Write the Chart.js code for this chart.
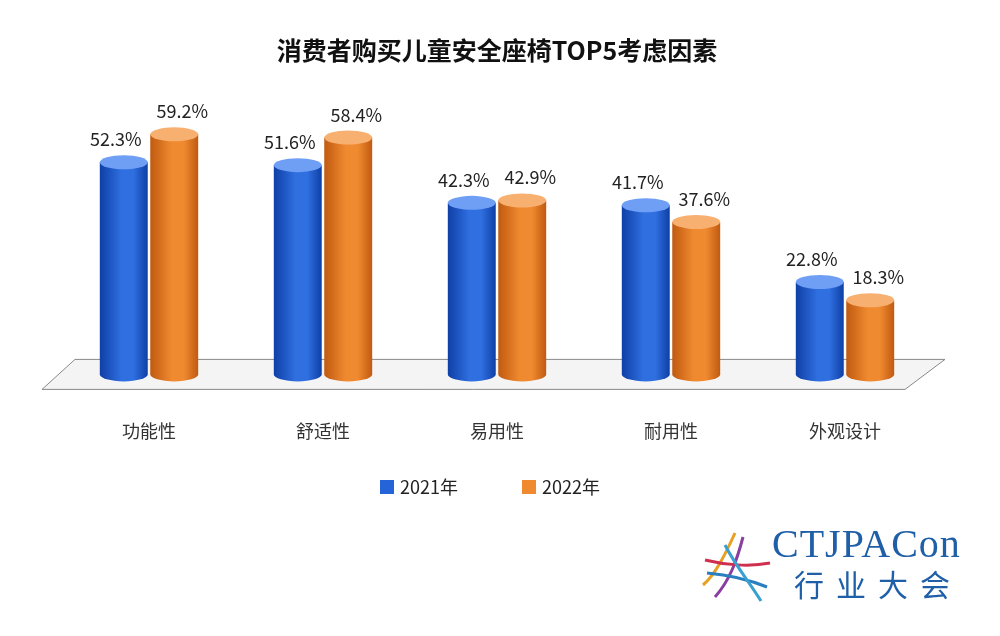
<!DOCTYPE html>
<html><head><meta charset="utf-8">
<script src="https://cdn.jsdelivr.net/npm/chart.js@4"></script>
<style>
body{margin:0;background:#fff;font-family:"Noto Sans CJK SC",sans-serif}
#wrap{position:relative;width:1000px;height:636px}
#logo{position:absolute;left:772px;top:522px;color:#1f5fa8}
#logo .a{font-family:"Liberation Serif",serif;font-size:40px;line-height:44px;letter-spacing:1px}
#logo .b{font-family:"Noto Sans CJK SC";font-size:30px;letter-spacing:12px;line-height:34px;margin-left:22px}
</style></head><body>
<div id="wrap"><canvas id="c" width="1000" height="636"></canvas>
<svg style="position:absolute;left:695px;top:525px" width="80" height="80">
<g fill="none" stroke-width="3">
<path d="M40 8 C30 30 20 50 8 60" stroke="#e8a020"/>
<path d="M48 12 C42 35 35 55 20 72" stroke="#8a3fa0"/>
<path d="M10 35 C30 40 55 42 75 38" stroke="#d03050"/>
<path d="M12 48 C35 50 55 55 72 62" stroke="#2a7fc0"/>
<path d="M30 20 C40 40 55 58 66 76" stroke="#3aa0d0"/>
</g></svg>
<div id="logo"><div class="a">CTJPACon</div><div class="b">行业大会</div></div>
</div>
<script>
const categories=["功能性","舒适性","易用性","耐用性","外观设计"];
const series2021=[52.3,51.6,42.3,41.7,22.8];
const series2022=[59.2,58.4,42.9,37.6,18.3];
const seriesNames=["2021年","2022年"];
const colors=[["#0f3fa6","#2f6fe0","#6f9ff5"],["#c05a10","#f08a30","#f8b070"]];
const legendColors=["#2563d8","#f08a30"];
const cyl={id:'cyl',
 beforeDatasetsDraw(ch){const c=ch.ctx,b=ch.scales.y.getPixelForValue(0);
  c.save();c.beginPath();c.moveTo(42,b+15);c.lineTo(905,b+15);c.lineTo(945,b-15);c.lineTo(75,b-15);c.closePath();
  c.fillStyle="#f4f4f4";c.fill();c.strokeStyle="#888";c.lineWidth=1;c.stroke();c.restore();},
 beforeDatasetDraw(){return false;},
 afterDatasetsDraw(ch){const c=ch.ctx;
  ch.data.datasets.forEach((ds,di)=>{ch.getDatasetMeta(di).data.forEach((el,i)=>{
   const w=el.width,x=el.x-w/2,t=el.y,bt=el.base,ry=7,col=colors[di];
   const g=c.createLinearGradient(x,0,x+w,0);g.addColorStop(0,col[0]);g.addColorStop(0.45,col[1]);g.addColorStop(0.7,col[1]);g.addColorStop(1,col[0]);
   c.save();c.fillStyle=g;c.beginPath();c.moveTo(x,t);c.lineTo(x,bt);c.ellipse(el.x,bt,w/2,ry,0,Math.PI,0,true);c.lineTo(x+w,t);c.closePath();c.fill();
   c.beginPath();c.ellipse(el.x,t,w/2,ry,0,0,Math.PI*2);c.fillStyle=col[2];c.fill();
   c.fillStyle="#222";c.font="18px 'Noto Sans CJK SC'";c.textAlign="center";c.fillText(ds.data[i].toFixed(1)+"%",el.x+(di?8:-8),t-16);
   c.restore();});});
  c.save();c.font="18px 'Noto Sans CJK SC'";c.textBaseline="middle";c.textAlign="left";
  const pos=[[380,"2021年"],[522,"2022年"]];
  ch.data.datasets.forEach((ds,di)=>{const lx=pos[di][0],ly=487;c.fillStyle=legendColors[di];c.fillRect(lx,ly-7,14,14);c.fillStyle="#222";c.fillText(ds.label,lx+20,ly);});
  c.restore();}};
new Chart(document.getElementById('c'),{type:'bar',
 data:{labels:categories,datasets:[
  {label:seriesNames[0],data:series2021,backgroundColor:"#2563d8",categoryPercentage:0.58,barPercentage:0.95},
  {label:seriesNames[1],data:series2022,backgroundColor:"#f08a30",categoryPercentage:0.58,barPercentage:0.95}]},
 options:{responsive:false,animation:false,
  layout:{padding:{left:62,right:68,top:10,bottom:156}},
  scales:{y:{display:false,min:0,max:61.5},
   x:{grid:{display:false},border:{display:false},
    ticks:{color:"#333",font:{size:18,family:"Noto Sans CJK SC"},padding:38}}},
  plugins:{title:{display:true,text:"消费者购买儿童安全座椅TOP5考虑因素",font:{size:25,weight:'bold',family:"Noto Sans CJK SC"},color:"#111",padding:{top:25,bottom:60}},
   legend:{display:false},
   tooltip:{enabled:false}}},
 plugins:[cyl]});
</script></body></html>
